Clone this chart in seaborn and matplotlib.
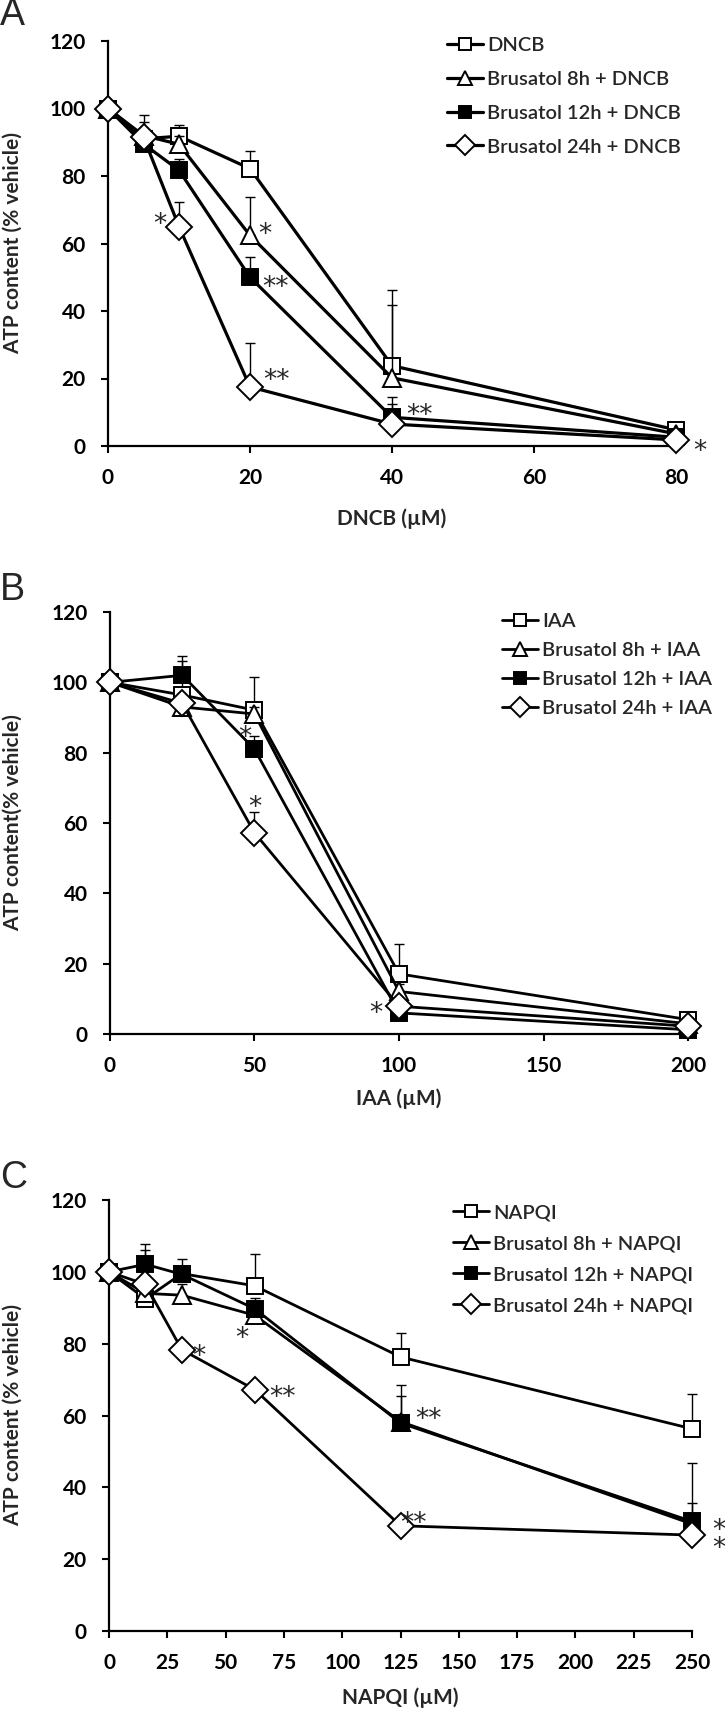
import numpy as np
import matplotlib
matplotlib.use("Agg")
import matplotlib.pyplot as plt
import seaborn as sns

# ---- panel A: DNCB ----
x_dncb = [0, 5, 10, 20, 40, 80]
dncb_mean = [100, 91, 91.8, 82.2, 23.8, 4.8]
dncb_sd = [0, 2, 3.2, 5.2, 22.5, 1.2]
b8_dncb_mean = [100, 92, 89.4, 62.4, 20.2, 3.6]
b8_dncb_sd = [0, 4, 2.6, 11.4, 21.7, 1.4]
b12_dncb_mean = [100, 89.5, 81.7, 50, 8.5, 2.6]
b12_dncb_sd = [0, 2.5, 3.4, 6, 6.1, 0.9]
b24_dncb_mean = [100, 91.5, 65, 17.5, 6.5, 1.8]
b24_dncb_sd = [0, 6.5, 7.3, 13, 6, 0.7]
labels_dncb = ["DNCB", "Brusatol 8h + DNCB", "Brusatol 12h + DNCB", "Brusatol 24h + DNCB"]
# (series, point, text, dx pt, dy pt)
stars_dncb = [(3, 2, "*", -14, 7), (1, 3, "*", 11, 6), (2, 3, "**", 18, -2),
              (3, 3, "**", 19, 10), (2, 4, "**", 20, 7), (3, 5, "*", 17, -3)]

# ---- panel B: IAA ----
x_iaa = [0, 25, 50, 100, 200]
iaa_mean = [100, 96.4, 92.1, 17.1, 4.1]
iaa_sd = [0, 9.6, 9.3, 8.5, 0.8]
b8_iaa_mean = [100, 93, 91, 12.1, 2.9]
b8_iaa_sd = [0, 3, 2, 2, 0.6]
b12_iaa_mean = [100, 102, 81, 6, 1.2]
b12_iaa_sd = [0, 5.5, 3.8, 1, 0.4]
b24_iaa_mean = [100, 94, 57.2, 7.9, 2.2]
b24_iaa_sd = [0, 2, 6, 1.5, 0.5]
labels_iaa = ["IAA", "Brusatol 8h + IAA", "Brusatol 12h + IAA", "Brusatol 24h + IAA"]
stars_iaa = [(2, 2, "*", -7, 14), (3, 2, "*", 0, 24), (3, 3, "*", -17, 0)]

# ---- panel C: NAPQI ----
x_napqi = [0, 15.625, 31.25, 62.5, 125, 250]
napqi_mean = [100, 92.5, 99.5, 96.1, 76.3, 56.3]
napqi_sd = [0, 3, 2, 9, 6.8, 9.8]
b8_napqi_mean = [100, 94, 93.5, 87.9, 58.3, 29.8]
b8_napqi_sd = [0, 12, 3, 2, 7, 17.1]
b12_napqi_mean = [100, 102.1, 99.3, 89.7, 57.9, 30.5]
b12_napqi_sd = [0, 5.6, 4.2, 3, 10.7, 5.2]
b24_napqi_mean = [100, 96.5, 78.3, 67.2, 29.3, 26.7]
b24_napqi_sd = [0, 2, 1.5, 1.5, 1.5, 1.5]
labels_napqi = ["NAPQI", "Brusatol 8h + NAPQI", "Brusatol 12h + NAPQI", "Brusatol 24h + NAPQI"]
stars_napqi = [(3, 2, "*", 12, 1), (1, 3, "*", -9, -11), (3, 3, "**", 20, 0),
               (2, 4, "**", 20, 8), (3, 4, "**", 9, 7), (2, 5, "*\n*", 19, -14)]

# marker, face colour, size
MARKERS = [("s", "white", 11), ("^", "white", 12.5), ("s", "black", 11), ("D", "white", 13)]
STAR_RAISE = 11

sns.set_style("ticks")
plt.rcParams["font.family"] = ["Lato", "DejaVu Sans"]
plt.rcParams["font.weight"] = "bold"

fig = plt.figure(figsize=(7.25, 17.13), dpi=100)
W, H = 725, 1713


def add_axes(left, right, top, bottom):
    return fig.add_axes([left / W, 1 - bottom / H, (right - left) / W, (bottom - top) / H])


def draw_panel(ax, x, means, sds, labels, stars, xticks, xlabel, ylabel, lw,
               leg_xy, leg_space, ylab_y=0.5, xlab_y=-0.15):
    handles = []
    for i, (m, sd) in enumerate(zip(means, sds)):
        mk, fc, ms = MARKERS[i]
        ax.errorbar(x, m, yerr=[np.zeros(len(sd)), sd], fmt="none", ecolor="black",
                    elinewidth=1.0, capsize=3.5, capthick=1.0, zorder=2 + 2 * i, clip_on=False)
        sns.lineplot(x=x, y=m, ax=ax, color="black", marker=mk, markersize=ms,
                     markerfacecolor=fc, markeredgecolor="black", markeredgewidth=1.4,
                     linewidth=lw, sort=False, errorbar=None, clip_on=False, zorder=3 + 2 * i)
        handles.append(ax.lines[-1])
    for si, pi, txt, dx, dy in stars:
        ax.annotate(txt, xy=(x[pi], means[si][pi]), xytext=(dx, dy - STAR_RAISE),
                    textcoords="offset points", ha="center", va="baseline",
                    fontsize=19, family="DejaVu Sans", fontweight="normal",
                    linespacing=0.62, annotation_clip=False, zorder=20)
    ax.set_xlim(0, xticks[-1])
    ax.set_ylim(0, 120)
    ax.set_xticks(xticks)
    ax.set_yticks(range(0, 121, 20))
    sns.despine(ax=ax)
    for s in ("left", "bottom"):
        ax.spines[s].set_linewidth(1.6)
        ax.spines[s].set_color("black")
    ax.tick_params(direction="out", length=5, width=1.5, pad=11, labelsize=15, colors="black")
    ax.set_xlabel(xlabel, fontsize=15, fontweight="bold")
    ax.set_ylabel(ylabel, fontsize=15, fontweight="bold")
    ax.xaxis.set_label_coords(0.5, xlab_y)
    bb = ax.get_position()
    ax.yaxis.set_label_coords((13 - bb.x0 * W) / (bb.width * W), ylab_y)
    ax.yaxis.label.set_verticalalignment("center")
    ax.legend(handles, labels, loc="upper left", bbox_to_anchor=(leg_xy[0] / W, 1 - leg_xy[1] / H),
              bbox_transform=fig.transFigure, frameon=False, borderpad=0, borderaxespad=0,
              handlelength=1.8, handletextpad=0.2, labelspacing=leg_space, markerscale=0.78,
              prop={"size": 14.5, "weight": "semibold"})


ax_a = add_axes(108, 676, 41, 446)
draw_panel(ax_a, x_dncb, [dncb_mean, b8_dncb_mean, b12_dncb_mean, b24_dncb_mean],
           [dncb_sd, b8_dncb_sd, b12_dncb_sd, b24_dncb_sd], labels_dncb, stars_dncb,
           [0, 20, 40, 60, 80], "DNCB (\u00b5M)", "ATP content (% vehicle)", 2.3,
           (447, 37), 0.83, xlab_y=-0.153)

ax_b = add_axes(110, 688, 612, 1034)
draw_panel(ax_b, x_iaa, [iaa_mean, b8_iaa_mean, b12_iaa_mean, b24_iaa_mean],
           [iaa_sd, b8_iaa_sd, b12_iaa_sd, b24_iaa_sd], labels_iaa, stars_iaa,
           [0, 50, 100, 150, 200], "IAA (\u00b5M)", "ATP content(% vehicle)", 2.0,
           (502, 613), 0.59, xlab_y=-0.128)

ax_c = add_axes(109, 692, 1200, 1631)
draw_panel(ax_c, x_napqi, [napqi_mean, b8_napqi_mean, b12_napqi_mean, b24_napqi_mean],
           [napqi_sd, b8_napqi_sd, b12_napqi_sd, b24_napqi_sd], labels_napqi, stars_napqi,
           list(range(0, 251, 25)), "NAPQI (\u00b5M)", "ATP content (% vehicle)", 2.0,
           (453, 1204), 0.69, xlab_y=-0.132)

for letter, base in (("A", 25), ("B", 600), ("C", 1188)):
    fig.text(0, 1 - base / H, letter, fontsize=27, family="Liberation Sans",
             fontweight="normal", ha="left", va="baseline")

fig.savefig("out.png", dpi=100)
